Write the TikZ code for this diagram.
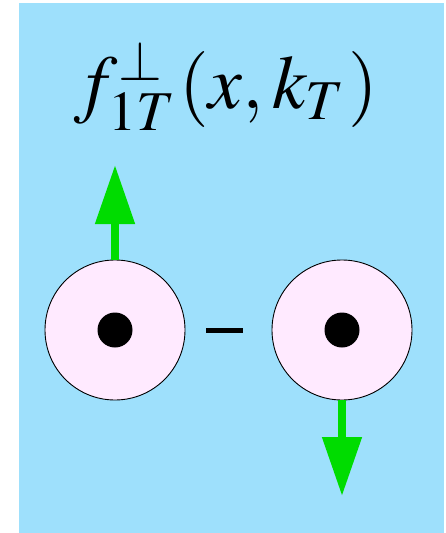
\documentclass[tikz,border=0pt]{standalone}
\usepackage{mathptmx}
\usetikzlibrary{arrows.meta}
\definecolor{bgblue}{RGB}{158,224,252}
\definecolor{diskpink}{RGB}{255,234,255}
\definecolor{spingreen}{RGB}{0,220,0}
\begin{document}
\begin{tikzpicture}[x=1pt,y=-1pt,
  disk/.style={circle,draw=black,line width=0.9pt,fill=diskpink,minimum size=140pt,inner sep=0pt},
  dot/.style={circle,fill=black,minimum size=35pt,inner sep=0pt},
  spin/.style={draw=spingreen,line width=8pt,-{Triangle[length=59pt,width=38pt]}}]
\useasboundingbox (0,0) rectangle (446,533);
\fill[bgblue] (19,3) rectangle (444,533);
\node[anchor=base,scale=7.6,inner sep=0pt] (title) at (226,108) {$f_{1T}^{\perp}(x,k_T)$};
\node[disk] (d1) at (115,330) {};
\node[dot] (c1) at (115,330) {};
\node[disk] (d2) at (342,330) {};
\node[dot] (c2) at (342,330) {};
\coordinate (t1) at (115,165);
\coordinate (t2) at (342,496);
\draw[spin] (d1.north) -- (t1);
\draw[spin] (d2.south) -- (t2);
\node[inner sep=0pt] (minus) at (225,330) {};
\fill[black] (206,328) rectangle (243,333);
\end{tikzpicture}
\end{document}
